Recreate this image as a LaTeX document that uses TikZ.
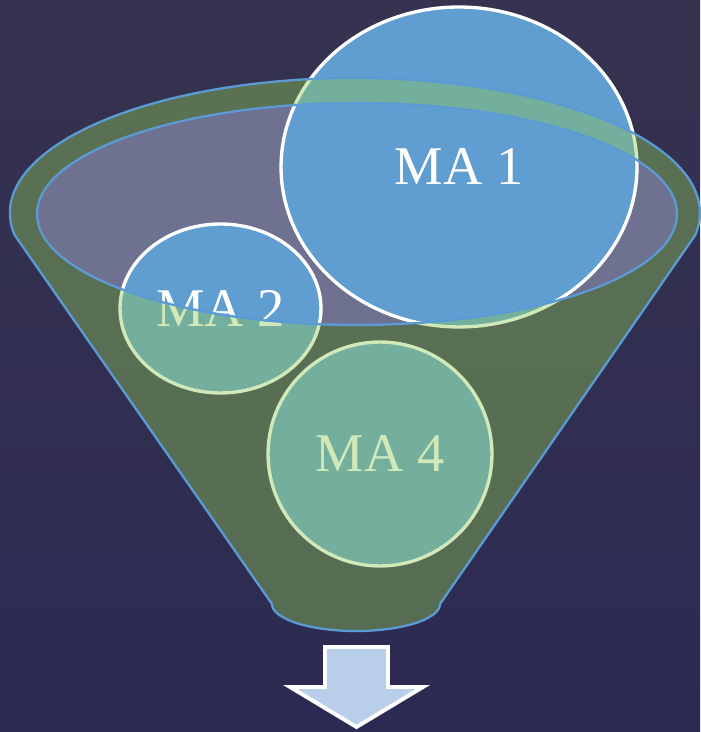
\documentclass[tikz,border=0pt]{standalone}
\usepackage{fontspec}
\setmainfont{Liberation Serif}
\usepackage{tikz}
\usetikzlibrary{shapes.geometric}
\definecolor{bgtop}{RGB}{54,51,80}
\definecolor{bgbottom}{RGB}{44,42,82}
\definecolor{glass}{RGB}{110,113,144}
\definecolor{circblue}{RGB}{96,157,208}
\definecolor{rimblue}{RGB}{91,155,213}
\definecolor{funnelgreen}{RGB}{145,203,86}
\definecolor{arrowblue}{RGB}{185,206,232}
\tikzset{
	circ/.style={ellipse, fill=circblue, draw=white, line width=1.9pt, text=white, inner sep=0pt, font=\fontsize{31}{36}\selectfont},
	rim/.style={draw=rimblue, line width=1.3pt}
}

\begin{document}
\begin{tikzpicture}[x=0.02cm, y=0.02cm]
		%%%%% START %%%%%
		
		\useasboundingbox (0, 0) rectangle (700, 732);
		\shade[top color=bgtop, bottom color=bgbottom] (0, 0) rectangle (700, 732);
		
		% glass of the funnel
		\fill[glass] (357, 518) ellipse [x radius=320, y radius=111];
		
		% circles
		\node[circ, minimum width=7.12cm, minimum height=6.4cm] (ma1) at (459, 565) {MA 1};
		\node[circ, minimum width=4.02cm, minimum height=3.38cm] (ma2) at (220.5, 423.5) {MA 2};
		\node[circ, minimum width=4.48cm, minimum height=4.48cm] (ma4) at (380, 278) {MA 4};
		
		% funnel body with the hole
		\fill[funnelgreen, fill opacity=0.41, even odd rule]
			(14.6, 497) arc [start angle=189.4, end angle=-9.4, x radius=345, y radius=135]
			-- (440, 128) arc [start angle=0, end angle=-180, x radius=84, y radius=27] -- cycle
			(357, 518) ellipse [x radius=320, y radius=111];
		\draw[rim]
			(14.6, 497) arc [start angle=189.4, end angle=-9.4, x radius=345, y radius=135]
			-- (440, 128) arc [start angle=0, end angle=-180, x radius=84, y radius=27] -- cycle;
		\draw[rim] (357, 518) ellipse [x radius=320, y radius=111];
		
		% arrow
		\draw[fill=arrowblue, draw=white, line width=2.2pt, line join=miter]
			(325, 85) -- (388, 85) -- (388, 45) -- (423, 45) -- (356.5, 5) -- (290, 45) -- (325, 45) -- cycle;
		
		%%%%% END %%%%%
	\end{tikzpicture}
\end{document}
